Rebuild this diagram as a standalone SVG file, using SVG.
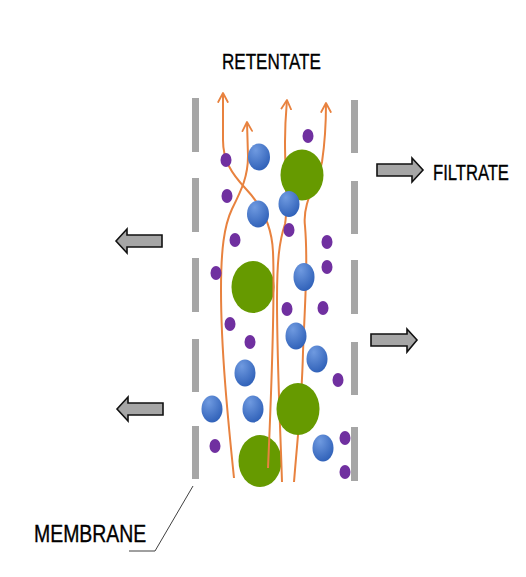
<svg xmlns="http://www.w3.org/2000/svg" width="526" height="577" viewBox="0 0 526 577">
<defs>
<radialGradient id="blueGrad" cx="0.35" cy="0.25" r="0.85">
<stop offset="0" stop-color="#6f9ae0"/>
<stop offset="1" stop-color="#2a5cb5"/>
</radialGradient>
<marker id="chev" viewBox="0 0 14 14" refX="10" refY="7" markerWidth="14" markerHeight="14" markerUnits="userSpaceOnUse" orient="auto">
<path d="M1,2.2 L10,7 L1,11.8" fill="none" stroke="#e8823f" stroke-width="1.8" stroke-linecap="round" stroke-linejoin="round"/>
</marker>
</defs>
<style>
.bar{fill:#a6a6a6;}
.blk{fill:#a6a6a6;stroke:#111;stroke-width:1.6;stroke-linejoin:miter;}
.flow{fill:none;stroke:#e8823f;stroke-width:2;marker-end:url(#chev);}
.b{fill:url(#blueGrad);}
.g{fill:#669a00;}
.p{fill:#7030a0;}
.lbl{font-family:"Liberation Sans",Arial,sans-serif;fill:#000;stroke:#000;stroke-width:0.35;}
</style>
<rect width="526" height="577" fill="#fff"/>

<g id="membrane-left">
<rect class="bar" x="192" y="98" width="7" height="54"/>
<rect class="bar" x="192" y="178" width="7" height="54"/>
<rect class="bar" x="192" y="258" width="7" height="54"/>
<rect class="bar" x="192" y="339" width="7" height="53"/>
<rect class="bar" x="192" y="426" width="7" height="53"/>
</g>
<g id="membrane-right">
<rect class="bar" x="351" y="100" width="7" height="53"/>
<rect class="bar" x="351" y="181" width="7" height="53"/>
<rect class="bar" x="351" y="260" width="7" height="54"/>
<rect class="bar" x="351" y="342" width="7" height="53"/>
<rect class="bar" x="351" y="427" width="7" height="54"/>
</g>

<g id="particles-under">
<ellipse class="g" cx="253" cy="287" rx="21.5" ry="26"/>
<ellipse class="g" cx="260" cy="461" rx="21.5" ry="26"/>
</g>

<g id="connectors">
<path class="flow" d="M268,468 C271,400 275,300 273,252 C272,226 262,206 246,189 C231,173 223,160 223,140 L223,93"/>
<path class="flow" d="M234,478 C228,420 221,350 221,290 C221,250 224,226 232,209 C242,189 248,176 248,156 L247,122"/>
<path class="flow" d="M282,482 C280,420 277,360 277,300 C277,262 279,242 285,224 C288,210 285,172 285,142 C285,122 286,112 287,100"/>
<path class="flow" d="M294,482 C298,432 302,400 303,352 C305,302 308,262 305,226 C302,202 318,182 322,162 C325,142 326,122 326,103"/>
</g>

<g id="particles">
<ellipse class="g" cx="302" cy="175" rx="21.5" ry="25.5"/>
<ellipse class="g" cx="298" cy="409" rx="21.5" ry="26"/>
<ellipse class="b" cx="259" cy="157" rx="11" ry="13.5"/>
<ellipse class="b" cx="258" cy="214" rx="11" ry="13.5"/>
<ellipse class="b" cx="289" cy="204" rx="10.5" ry="13"/>
<ellipse class="b" cx="304" cy="277" rx="10.5" ry="14"/>
<ellipse class="b" cx="296" cy="336" rx="10.5" ry="13.5"/>
<ellipse class="b" cx="317" cy="359" rx="10.5" ry="13.5"/>
<ellipse class="b" cx="245" cy="373" rx="10.5" ry="13.5"/>
<ellipse class="b" cx="212" cy="409" rx="10.5" ry="13.5"/>
<ellipse class="b" cx="253" cy="409" rx="10.5" ry="13.5"/>
<ellipse class="b" cx="323" cy="448" rx="10.5" ry="13.5"/>
<ellipse class="p" cx="226" cy="160" rx="5.5" ry="7"/>
<ellipse class="p" cx="227" cy="196" rx="5.5" ry="7"/>
<ellipse class="p" cx="235" cy="240" rx="5.5" ry="7"/>
<ellipse class="p" cx="308" cy="136" rx="5.5" ry="7"/>
<ellipse class="p" cx="289" cy="230" rx="5.5" ry="7"/>
<ellipse class="p" cx="327" cy="242" rx="5.5" ry="7"/>
<ellipse class="p" cx="216" cy="273" rx="5.5" ry="7"/>
<ellipse class="p" cx="327" cy="267" rx="5.5" ry="7"/>
<ellipse class="p" cx="287" cy="309" rx="5.5" ry="7"/>
<ellipse class="p" cx="323" cy="308" rx="5.5" ry="7"/>
<ellipse class="p" cx="230" cy="324" rx="5.5" ry="7"/>
<ellipse class="p" cx="250" cy="342" rx="5.5" ry="7"/>
<ellipse class="p" cx="338" cy="380" rx="5.5" ry="7"/>
<ellipse class="p" cx="215" cy="446" rx="5.5" ry="7"/>
<ellipse class="p" cx="345" cy="438" rx="5.5" ry="7"/>
<ellipse class="p" cx="345" cy="472" rx="5.5" ry="7"/>
</g>

<g id="arrow-right-1"><polygon class="blk" points="377,164 412,164 412,158 423,170 412,182 412,176 377,176"/></g>
<g id="arrow-right-2"><polygon class="blk" points="371,334 407,334 407,329 417,340 407,352 407,346 371,346"/></g>
<g id="arrow-left-1"><polygon class="blk" points="116,241 127,229 127,235 162,235 162,247 127,247 127,253"/></g>
<g id="arrow-left-2"><polygon class="blk" points="117,409 128,397 128,403 163,403 163,415 128,415 128,421"/></g>

<g id="label-retentate"><text class="lbl" transform="translate(222,68.5) scale(0.775,1)" font-size="22">RETENTATE</text></g>
<g id="label-filtrate"><text class="lbl" transform="translate(433,180) scale(0.755,1)" font-size="22">FILTRATE</text></g>
<g id="label-membrane">
<text class="lbl" transform="translate(34,542) scale(0.845,1)" font-size="23">MEMBRANE</text>
<polyline points="193,486 155,551 129,551" fill="none" stroke="#404040" stroke-width="1"/>
</g>
</svg>
